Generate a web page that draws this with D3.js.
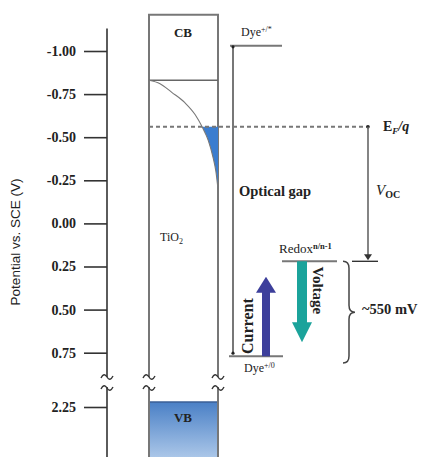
<!DOCTYPE html>
<html>
<head>
<meta charset="utf-8">
<script src="https://cdn.jsdelivr.net/npm/d3@7"></script>
<style>
body { margin: 0; background: #fff; }
svg { display: block; }
text { font-family: "Liberation Serif", "Times New Roman", serif; fill: #222; }
</style>
</head>
<body>
<svg id="chart"></svg>
<script>
// axis ticks (V vs SCE)
const tickValues = [-1.00, -0.75, -0.50, -0.25, 0.00, 0.25, 0.50, 0.75, 2.25];
// energy levels (V vs SCE)
const levelNames = ['dyeExcited', 'cb', 'fermi', 'redox', 'dyeGround', 'vb'];
const levelValues = [-1.03, -0.83, -0.56, 0.22, 0.77, 2.22];
// band bending in TiO2: fraction across the box, potential
const bendX = [0, 0.16, 0.33, 0.52, 0.67, 0.77, 0.86, 0.93, 0.97, 1.0];
const bendV = [-0.83, -0.81, -0.76, -0.70, -0.63, -0.56, -0.48, -0.38, -0.30, -0.20];
// arrow tips and brace span
const currentTip = 0.31, voltageTip = 0.69;
const braceSpan = [0.22, 0.81];
const boxTop = -1.21, axisTop = -1.13;

const width = 424, height = 457;
const lv = {};
levelNames.forEach((n, i) => lv[n] = levelValues[i]);

const svg = d3.select('#chart')
  .attr('width', width)
  .attr('height', height);

// broken potential axis
const y = d3.scaleLinear()
  .domain([-1.0, 0.92, 2.10, 2.25])
  .range([51, 382, 382, 407]);
const xBox = d3.scaleLinear().domain([0, 1]).range([149, 218]);
const brk = y(1.5);

const grey = '#777';

const defs = svg.append('defs');
const grad = defs.append('linearGradient')
  .attr('id', 'vbgrad')
  .attr('x1', 0).attr('x2', 0).attr('y1', 0).attr('y2', 1);
grad.append('stop').attr('offset', '0%').attr('stop-color', '#4a80c6');
grad.append('stop').attr('offset', '100%').attr('stop-color', '#aac6e8');

// axis
const axis = svg.append('g')
  .attr('transform', 'translate(107,0)')
  .call(d3.axisLeft(y).tickValues(tickValues).tickSize(23).tickPadding(8)
    .tickFormat(d => d.toFixed(2)));
axis.select('.domain').remove();
axis.selectAll('.tick line').attr('stroke', '#333').attr('stroke-width', 1.6);
axis.selectAll('.tick text')
  .style('font-family', '"Liberation Serif", serif')
  .style('font-size', '14px')
  .style('font-weight', 'bold')
  .attr('fill', '#3a3a3a');

function vline(x, y0, y1, color, w) {
  svg.append('line')
    .attr('x1', x).attr('x2', x).attr('y1', y0).attr('y2', y1)
    .attr('stroke', color).attr('stroke-width', w);
}
function hline(y0, x0, x1, color, w) {
  svg.append('line')
    .attr('x1', x0).attr('x2', x1).attr('y1', y0).attr('y2', y0)
    .attr('stroke', color).attr('stroke-width', w);
}
function squiggle(x, yy) {
  svg.append('path')
    .attr('d', `M${x - 6},${yy + 1} q3,-6 6,-1 t6,-1`)
    .attr('fill', 'none').attr('stroke', '#333').attr('stroke-width', 1.4);
}

vline(107, y(axisTop), brk - 5, '#333', 1.6);
vline(107, brk + 5, height, '#333', 1.6);

// TiO2 box
svg.append('rect')
  .attr('x', xBox(0)).attr('y', y(lv.vb))
  .attr('width', xBox(1) - xBox(0)).attr('height', height - y(lv.vb))
  .attr('fill', 'url(#vbgrad)');
hline(y(lv.vb), xBox(0), xBox(1), '#3a5f96', 1.5);

[xBox(0), xBox(1)].forEach(x => {
  vline(x, y(boxTop), brk - 5, grey, 2);
  vline(x, brk + 5, height, grey, 2);
});
hline(y(boxTop), xBox(0) - 1, xBox(1) + 1, grey, 2);
hline(y(lv.cb), xBox(0), xBox(1), '#666', 1.4);

[107, xBox(0), xBox(1)].forEach(x => {
  squiggle(x, brk - 5);
  squiggle(x, brk + 6);
});

// band bending + filled states
const pts = bendX.map((b, i) => ({x: b, v: bendV[i]}));
svg.append('path')
  .datum(pts.filter(d => d.v >= lv.fermi))
  .attr('d', d3.area().curve(d3.curveMonotoneX)
    .x0(d => xBox(d.x)).x1(xBox(1)).y(d => y(d.v)))
  .attr('fill', '#3b7dcf');
svg.append('path')
  .datum(pts)
  .attr('d', d3.line().curve(d3.curveMonotoneX)
    .x(d => xBox(d.x)).y(d => y(d.v)))
  .attr('fill', 'none').attr('stroke', '#777').attr('stroke-width', 1.1);

// Fermi level
svg.append('line')
  .attr('x1', xBox(0)).attr('x2', 368)
  .attr('y1', y(lv.fermi)).attr('y2', y(lv.fermi))
  .attr('stroke', grey).attr('stroke-width', 2)
  .attr('stroke-dasharray', '4,3');
svg.append('circle').attr('cx', 368).attr('cy', y(lv.fermi)).attr('r', 1.8).attr('fill', '#222');

// dye levels and optical gap
hline(y(lv.dyeExcited), 230, 282, grey, 2);
hline(y(lv.dyeGround), 229, 283, grey, 2);
vline(233, y(lv.dyeExcited), y(lv.dyeGround) - 3, grey, 2);
svg.append('circle').attr('cx', 233).attr('cy', y(lv.dyeExcited) + 1).attr('r', 1.6).attr('fill', '#222');
svg.append('circle').attr('cx', 233).attr('cy', y(lv.dyeGround) - 3).attr('r', 1.6).attr('fill', '#222');

// redox and Voc
hline(y(lv.redox), 282, 337, grey, 2);
vline(368, y(lv.fermi), y(lv.redox) - 4, '#666', 1.6);
svg.append('path')
  .attr('d', `M364,${y(lv.redox) - 7} L368,${y(lv.redox) - 1} L372,${y(lv.redox) - 7} Z`)
  .attr('fill', '#333');
hline(y(lv.redox), 352, 378, '#333', 1.4);

// current arrow (up)
const cTop = y(currentTip), cBot = y(lv.dyeGround);
svg.append('path')
  .attr('d', `M262,${cBot} L262,${cTop + 16} L256,${cTop + 16} L266,${cTop} L276,${cTop + 16} L270,${cTop + 16} L270,${cBot} Z`)
  .attr('fill', '#3d3f9b');

// voltage arrow (down)
const vTop = y(lv.redox), vBot = y(voltageTip);
svg.append('path')
  .attr('d', `M297,${vTop} L297,${vBot - 20} L292,${vBot - 20} L302,${vBot} L312,${vBot - 20} L307,${vBot - 20} L307,${vTop} Z`)
  .attr('fill', '#1ba39b');

// brace
const b0 = y(braceSpan[0]), b1 = y(braceSpan[1]), bm = (b0 + b1) / 2;
svg.append('path')
  .attr('d', `M343,${b0} Q349,${b0} 349,${b0 + 7} L349,${bm - 7} Q349,${bm} 355,${bm} Q349,${bm} 349,${bm + 7} L349,${b1 - 7} Q349,${b1} 343,${b1}`)
  .attr('fill', 'none').attr('stroke', '#444').attr('stroke-width', 1.5);

// labels
svg.append('text')
  .attr('transform', 'translate(20,242) rotate(-90)')
  .attr('text-anchor', 'middle')
  .style('font-family', '"Liberation Sans", Arial, sans-serif')
  .style('font-size', '13.5px')
  .attr('fill', '#555')
  .text('Potential vs. SCE (V)');

svg.append('text').attr('x', 183).attr('y', 37).attr('text-anchor', 'middle')
  .style('font-size', '13px').style('font-weight', 'bold').text('CB');
svg.append('text').attr('x', 183).attr('y', 422).attr('text-anchor', 'middle')
  .style('font-size', '13px').style('font-weight', 'bold').attr('fill', '#1c2d55').text('VB');

const tio = svg.append('text').attr('x', 160).attr('y', 241).style('font-size', '12px');
tio.append('tspan').text('TiO');
tio.append('tspan').attr('dy', 3).style('font-size', '8px').text('2');

const dyeA = svg.append('text').attr('x', 241).attr('y', 36).style('font-size', '12px');
dyeA.append('tspan').text('Dye');
dyeA.append('tspan').attr('dy', -4).style('font-size', '8px').text('+/*');

const dyeB = svg.append('text').attr('x', 244).attr('y', 372).style('font-size', '12px');
dyeB.append('tspan').text('Dye');
dyeB.append('tspan').attr('dy', -4).style('font-size', '8px').text('+/0');

const red = svg.append('text').attr('x', 279).attr('y', 253).style('font-size', '13px');
red.append('tspan').text('Redox');
red.append('tspan').attr('dy', -4).style('font-size', '8.5px').style('font-weight', 'bold').text('n/n-1');

const ef = svg.append('text').attr('x', 383).attr('y', 131).style('font-size', '14px').style('font-weight', 'bold');
ef.append('tspan').text('E');
ef.append('tspan').attr('dy', 3).style('font-size', '9px').style('font-style', 'italic').text('F');
ef.append('tspan').attr('dy', -3).style('font-style', 'italic').text('/q');

svg.append('text').attr('x', 239).attr('y', 196)
  .style('font-size', '14.5px').style('font-weight', 'bold').text('Optical gap');

const voc = svg.append('text').attr('x', 376).attr('y', 195).style('font-size', '15px');
voc.append('tspan').style('font-style', 'italic').text('V');
voc.append('tspan').attr('dy', 3).style('font-size', '10px').style('font-weight', 'bold').text('OC');

svg.append('text').attr('x', 362).attr('y', 314)
  .style('font-size', '14.5px').style('font-weight', 'bold').text('~550 mV');

svg.append('text')
  .attr('transform', `translate(253,${cBot - 30}) rotate(-90)`)
  .attr('text-anchor', 'middle')
  .style('font-size', '16px').style('font-weight', 'bold')
  .attr('fill', '#3d3f9b').text('Current');

svg.append('text')
  .attr('transform', `translate(313,${vTop + 29}) rotate(90)`)
  .attr('text-anchor', 'middle')
  .style('font-size', '15px').style('font-weight', 'bold')
  .attr('fill', '#1a9c94').text('Voltage');
</script>
</body>
</html>
